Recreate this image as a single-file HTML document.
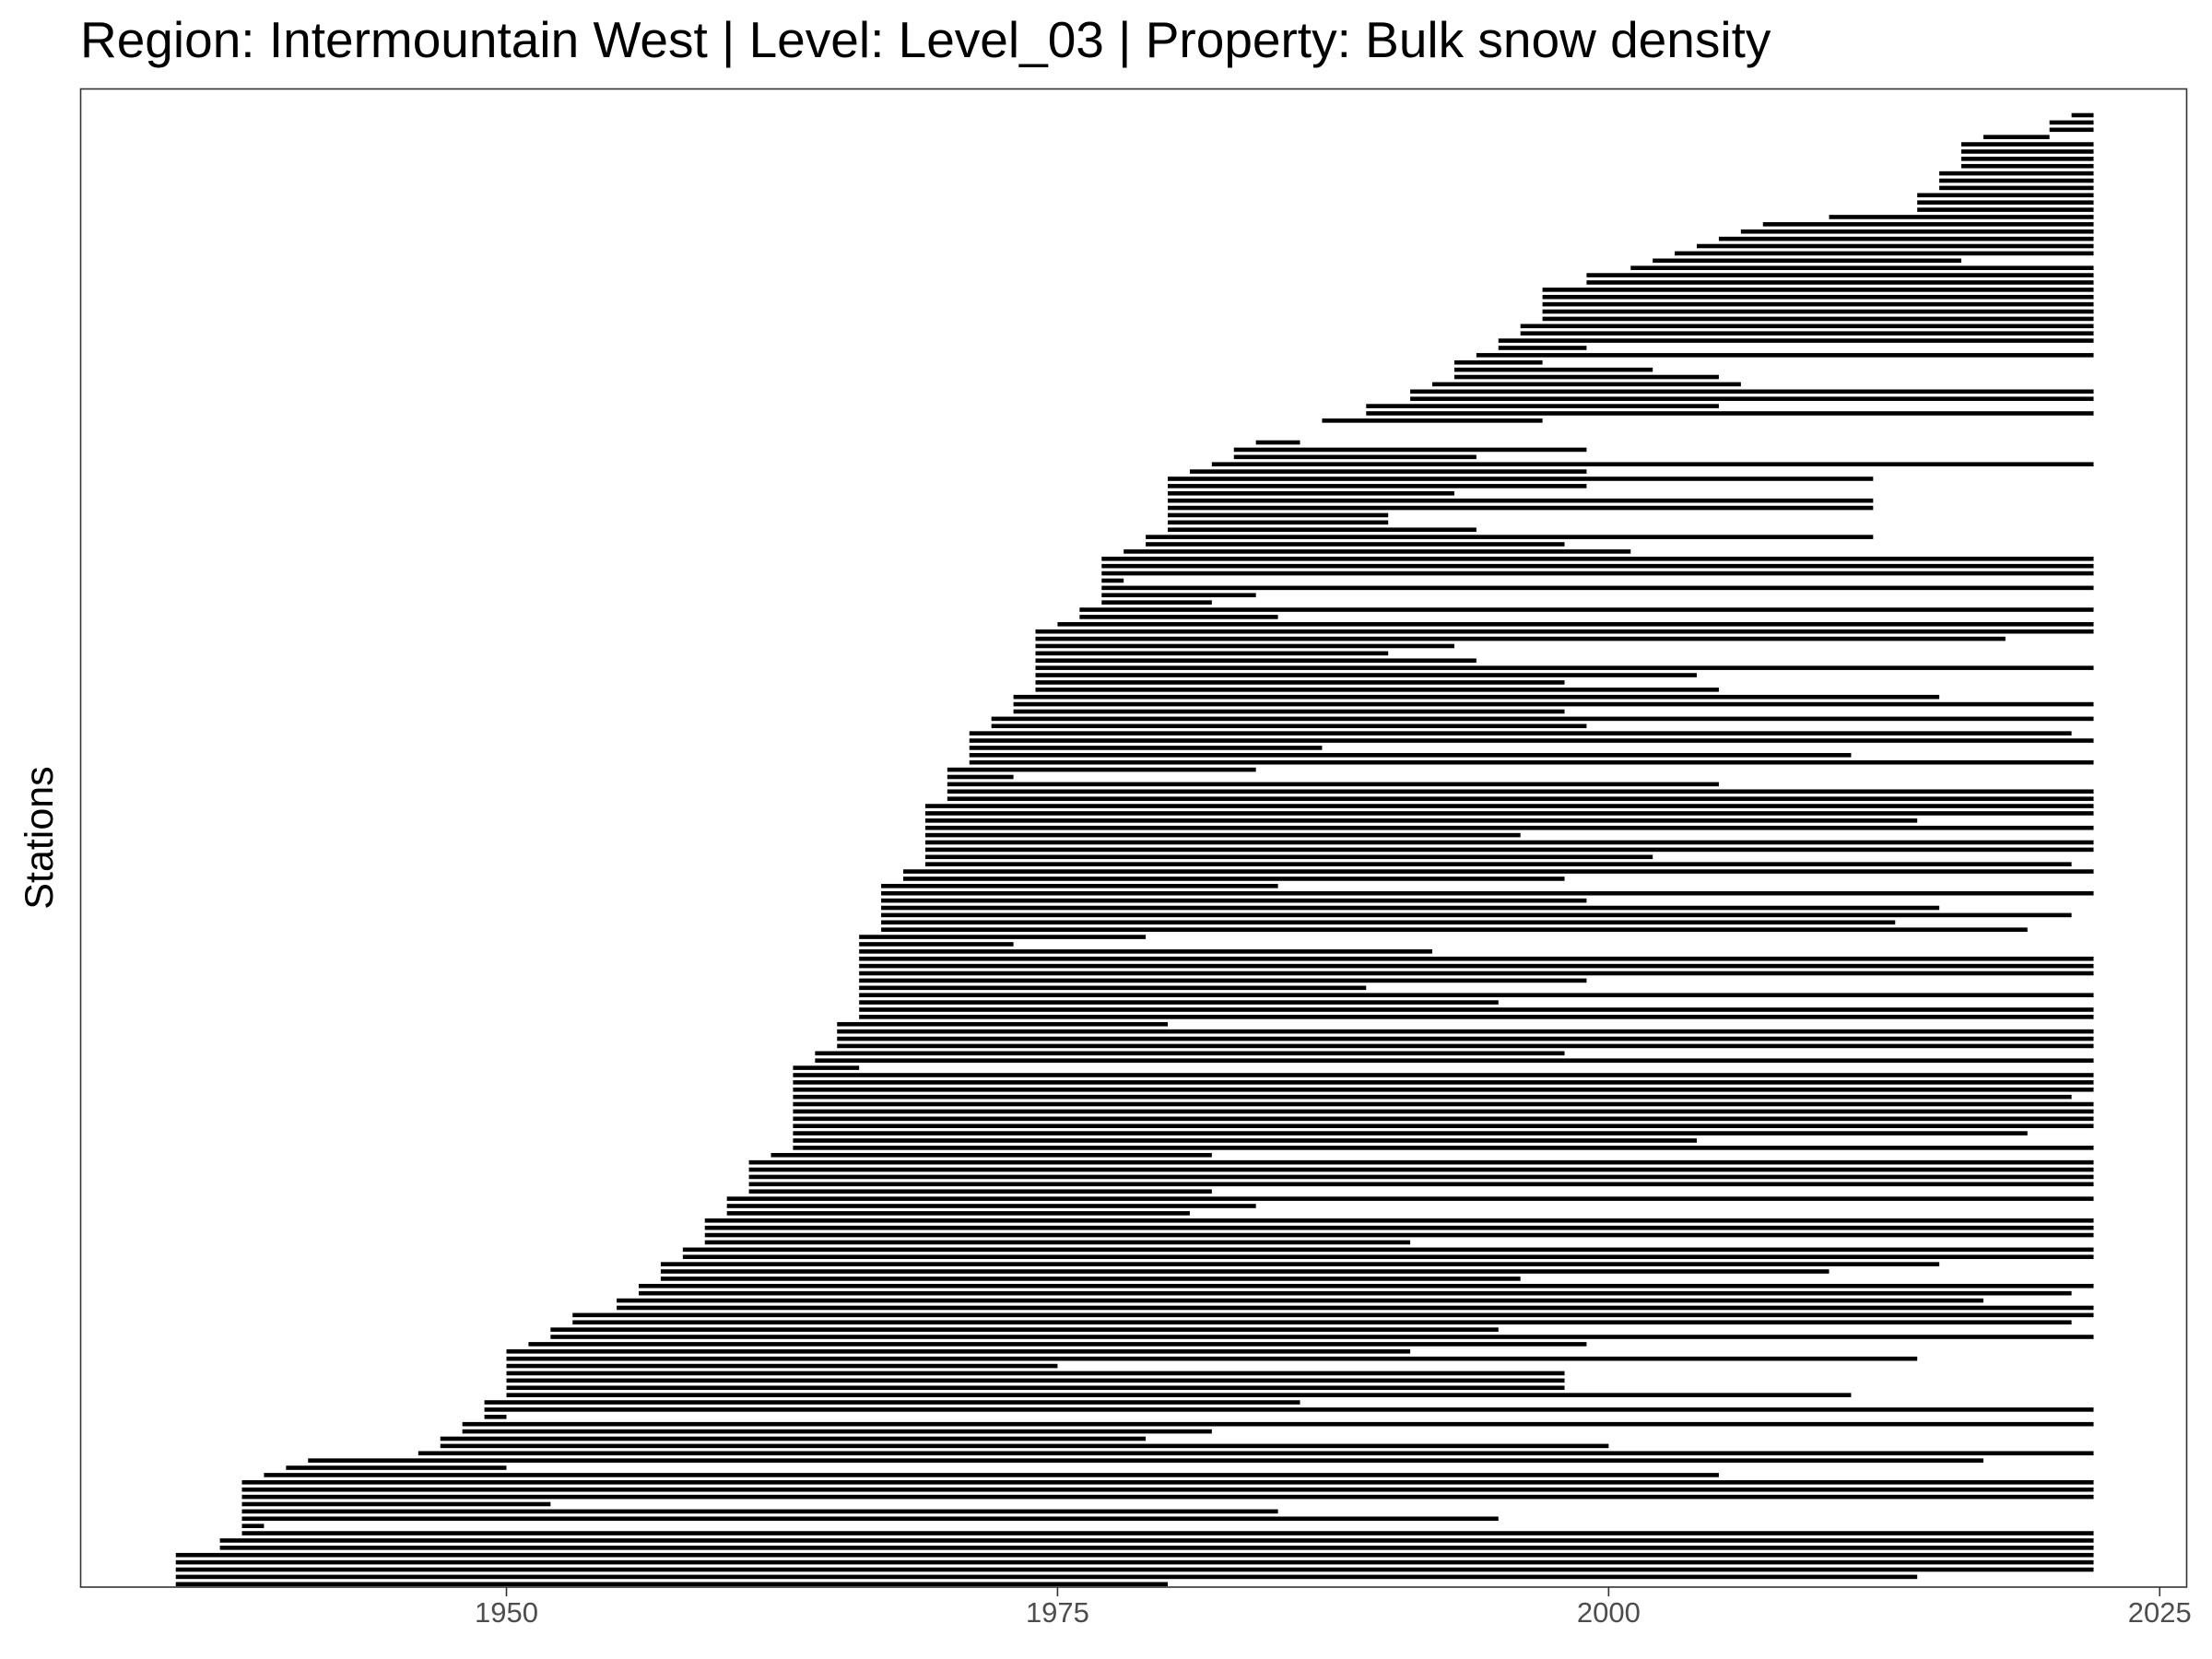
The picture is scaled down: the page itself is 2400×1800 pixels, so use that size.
<!DOCTYPE html>
<html>
<head>
<meta charset="utf-8">
<style>
  html, body { margin: 0; padding: 0; background: #ffffff; }
  svg { display: block; }
  text { font-family: "Liberation Sans", Arial, sans-serif; }
</style>
</head>
<body>
<svg id="chart" width="2400" height="1800" viewBox="0 0 2400 1800" xmlns="http://www.w3.org/2000/svg">
  <rect x="0" y="0" width="2400" height="1800" fill="#ffffff"/>
  <text x="87" y="62" font-size="55" fill="#000000">Region: Intermountain West | Level: Level_03 | Property: Bulk snow density</text>
  <text transform="translate(57,909) rotate(-90)" text-anchor="middle" font-size="43" fill="#000000">Stations</text>
  <g id="bars"></g>
  <g id="xaxis"></g>
  <rect x="87.5" y="96.5" width="2285" height="1625.5" fill="none" stroke="#333333" stroke-width="1.6"/>
</svg>
<script>
// Station record start years (top to bottom); null = no record
const startYears = [
2021,2020,2020,2017,2016,2016,2016,2016,2015,2015,2015,2014,2014,2014,2010,2007,2006,
2005,2004,2003,2002,2001,1999,1999,1997,1997,1997,1997,1997,1996,1996,1995,1995,1994,
1993,1993,1993,1992,1991,1991,1989,1989,1987,null,null,1984,1983,1983,1982,1981,1980,1980,1980,
1980,1980,1980,1980,1980,1979,1979,1978,1977,1977,1977,1977,1977,1977,1977,1976,1976,1975,
1974,1974,1974,1974,1974,1974,1974,1974,1974,1973,1973,1973,1972,1972,1971,1971,1971,1971,1971,
1970,1970,1970,1970,1970,1969,1969,1969,1969,1969,1969,1969,1969,1969,1968,1968,1967,1967,
1967,1967,1967,1967,1967,1966,1966,1966,1966,1966,1966,1966,1966,1966,1966,1966,1966,1965,1965,
1965,1965,1964,1964,1963,1963,1963,1963,1963,1963,1963,1963,1963,1963,1963,1963,1962,1961,
1961,1961,1961,1961,1960,1960,1960,1959,1959,1959,1959,1958,1958,1957,1957,1957,1956,1956,1955,
1955,1953,1953,1952,1952,1951,1950,1950,1950,1950,1950,1950,1950,1949,1949,1949,1948,1948,
1947,1947,1946,1941,1940,1939,1938,1938,1938,1938,1938,1938,1938,1938,1937,1937,1935,1935,1935,1935,1935
];
// Station record end years (top to bottom)
const endYears = [
2022,2022,2022,2020,2022,2022,2022,2022,2022,2022,2022,2022,2022,2022,2022,2022,2022,
2022,2022,2022,2016,2022,2022,2022,2022,2022,2022,2022,2022,2022,2022,2022,1999,2022,
1997,2002,2005,2006,2022,2022,2005,2022,1997,null,null,1986,1999,1994,2022,1999,2012,1999,1993,
2012,2012,1990,1990,1994,2012,1998,2001,2022,2022,2022,1978,2022,1984,1982,2022,1985,2022,
2022,2018,1993,1990,1994,2022,2004,1998,2005,2015,2022,1998,2022,1999,2021,2022,1987,2011,2022,
1984,1973,2005,2022,2022,2022,2022,2014,2022,1996,2022,2022,2002,2021,2022,1998,1985,2022,
1999,2015,2021,2013,2019,1979,1973,1992,2022,2022,2022,1999,1989,2022,1995,2022,2022,1980,2022,
2022,2022,1998,2022,1966,2022,2022,2022,2021,2022,2022,2022,2022,2019,2004,2022,1982,2022,
2022,2022,2022,1982,2022,1984,1981,2022,2022,2022,1991,2022,2022,2015,2010,1996,2022,2021,2017,
2022,2022,2021,1995,2022,1999,1991,2014,1975,1998,1998,1998,2011,1986,2022,1950,2022,1982,
1979,2000,2022,2017,1950,2005,2022,2022,2022,1952,1985,1995,1939,2022,2022,2022,2022,2022,2022,2014,1980
];
const tickYears = [1950, 1975, 2000, 2025];
const tickLabels = ["1950", "1975", "2000", "2025"];

const NS = "http://www.w3.org/2000/svg";
const X0_YEAR = 1950, X0_PX = 549.5, PX_PER_YEAR = 23.917;
function xScale(year) { return X0_PX + (year - X0_YEAR) * PX_PER_YEAR; }
const ROW0_PX = 125.0, ROW_STEP = 7.89;
function yScale(i) { return ROW0_PX + i * ROW_STEP; }

const barsG = document.getElementById('bars');
for (let i = 0; i < startYears.length; i++) {
  const s = startYears[i], e = endYears[i];
  if (s === null || e === null) continue;
  const r = document.createElementNS(NS, 'rect');
  
  
  const x1 = xScale(s), x2 = xScale(e);
  r.setAttribute('x', x1.toFixed(2));
  r.setAttribute('y', (yScale(i) - 2.3).toFixed(2));
  r.setAttribute('width', Math.max(1, x2 - x1).toFixed(2));
  r.setAttribute('height', '4.6');
  r.setAttribute('fill', '#000000');
  barsG.appendChild(r);
}

const axisG = document.getElementById('xaxis');
for (let k = 0; k < tickYears.length; k++) {
  const x = xScale(tickYears[k]);
  const t = document.createElementNS(NS, 'line');
  
  
  t.setAttribute('x1', x); t.setAttribute('x2', x);
  t.setAttribute('y1', 1722); t.setAttribute('y2', 1732);
  t.setAttribute('stroke', '#333333');
  t.setAttribute('stroke-width', '1.6');
  axisG.appendChild(t);
  const lb = document.createElementNS(NS, 'text');
  
  
  lb.setAttribute('x', x);
  lb.setAttribute('y', 1760);
  lb.setAttribute('text-anchor', 'middle');
  lb.setAttribute('font-size', '31');
  lb.setAttribute('fill', '#4d4d4d');
  lb.textContent = tickLabels[k];
  axisG.appendChild(lb);
}
</script>
</body>
</html>
